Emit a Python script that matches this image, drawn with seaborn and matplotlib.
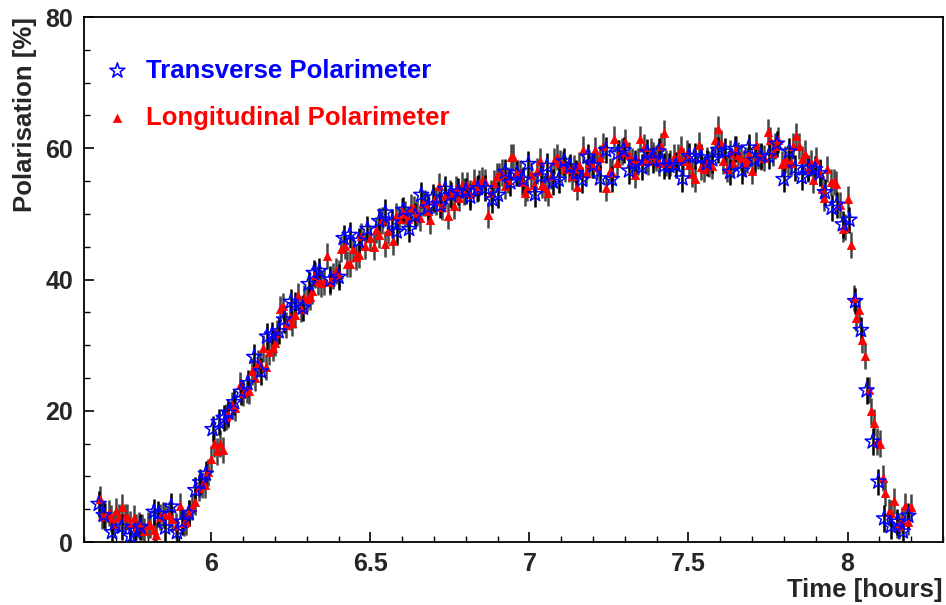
import numpy as np
import pandas as pd
import matplotlib
matplotlib.use("Agg")
import matplotlib.pyplot as plt
import seaborn as sns

# ---------------- data ----------------
long_time = [
    5.649, 5.656, 5.665, 5.677, 5.686, 5.693, 5.702, 5.711, 5.719, 5.728, 5.736, 5.745, 5.757, 5.763, 5.772, 5.782, 5.790, 5.801, 5.809, 5.819, 5.827, 5.838, 5.847, 5.855, 5.866, 5.876, 5.889, 5.902, 5.913, 5.920, 5.929, 5.939, 5.948, 5.960, 5.971, 5.981, 5.989, 6.000, 6.010, 6.019, 6.029, 6.038, 6.046, 6.054, 6.065,
    6.075, 6.091, 6.099, 6.112, 6.120, 6.128, 6.138, 6.146, 6.154, 6.162, 6.173, 6.183, 6.194, 6.201, 6.208, 6.217, 6.227, 6.236, 6.246, 6.253, 6.264, 6.272, 6.282, 6.290, 6.301, 6.309, 6.318, 6.327, 6.337, 6.346, 6.353, 6.363, 6.374, 6.382, 6.391, 6.400, 6.408, 6.419, 6.428, 6.435, 6.445, 6.454, 6.464, 6.472, 6.484, 6.500, 6.510, 6.519,
    6.526, 6.536, 6.545, 6.555, 6.570, 6.580, 6.591, 6.599, 6.610, 6.618, 6.628, 6.637, 6.646, 6.657, 6.667, 6.672, 6.681, 6.688, 6.699, 6.706, 6.717, 6.725, 6.735, 6.744, 6.751, 6.762, 6.770, 6.779, 6.788, 6.796, 6.804, 6.814, 6.825, 6.835, 6.842, 6.851, 6.859, 6.871, 6.880, 6.888, 6.898, 6.905, 6.913, 6.924, 6.932, 6.943, 6.950, 6.959, 6.970, 6.978,
    6.987, 6.994, 7.005, 7.015, 7.023, 7.032, 7.039, 7.050, 7.060, 7.067, 7.078, 7.086, 7.097, 7.105, 7.112, 7.123, 7.133, 7.141, 7.149, 7.157, 7.168, 7.178, 7.187, 7.196, 7.205, 7.214, 7.222, 7.231, 7.241, 7.252, 7.259, 7.266, 7.275, 7.283, 7.292, 7.301, 7.312, 7.322, 7.333, 7.341, 7.348, 7.359, 7.367, 7.374, 7.382, 7.390, 7.398, 7.406, 7.413, 7.422, 7.430,
    7.442, 7.453, 7.467, 7.477, 7.484, 7.495, 7.502, 7.511, 7.521, 7.532, 7.540, 7.548, 7.558, 7.565, 7.573, 7.584, 7.594, 7.603, 7.610, 7.621, 7.631, 7.639, 7.649, 7.657, 7.666, 7.674, 7.683, 7.691, 7.701, 7.712, 7.720, 7.728, 7.737, 7.749, 7.757, 7.765, 7.772, 7.783, 7.793, 7.802, 7.812, 7.821, 7.830, 7.838, 7.848, 7.856, 7.867, 7.875, 7.884,
    7.893, 7.901, 7.912, 7.919, 7.927, 7.937, 7.947, 7.956, 7.964, 7.975, 7.985, 7.992, 8.002, 8.010, 8.019, 8.027, 8.037, 8.045, 8.055, 8.066, 8.074, 8.082, 8.092, 8.102, 8.110, 8.118, 8.129, 8.137, 8.146, 8.155, 8.163, 8.171, 8.182, 8.191, 8.200,
]
long_pol = [
    6.5, 4.0, 4.0, 4.4, 3.6, 2.8, 4.7, 3.8, 5.3, 3.8, 3.8, 2.8, 3.6, 2.3, 2.6, 2.3, 1.7, 2.6, 2.6, 1.8, 1.1, 3.8, 4.1, 4.1, 4.1, 3.5, 2.4, 5.5, 2.9, 3.1, 4.4, 5.4, 6.1, 8.3, 8.7, 8.7, 10.6, 12.6, 14.9, 13.8, 15.0, 14.0, 19.1, 19.4, 20.9,
    20.4, 23.9, 22.7, 23.2, 23.0, 26.0, 25.0, 27.3, 27.1, 29.5, 26.7, 29.0, 29.6, 30.4, 31.8, 35.5, 36.0, 33.1, 34.3, 33.4, 34.6, 37.5, 35.5, 37.1, 37.0, 37.4, 38.3, 40.7, 39.7, 39.4, 39.7, 43.6, 39.6, 40.5, 41.3, 40.9, 44.6, 45.1, 42.4, 42.4, 44.6, 43.4, 43.7, 46.6, 45.1, 46.3, 44.9, 47.5,
    46.8, 49.0, 45.4, 47.4, 45.8, 49.7, 49.2, 50.4, 50.0, 49.2, 51.0, 50.7, 50.1, 49.4, 51.7, 51.7, 50.4, 49.0, 52.1, 51.9, 54.3, 51.1, 52.7, 49.7, 53.1, 51.2, 53.8, 52.4, 54.4, 53.4, 54.4, 53.1, 54.8, 53.8, 54.7, 55.2, 54.9, 49.8, 53.2, 54.7, 55.7, 55.7, 56.3, 54.3, 55.2, 58.7, 58.7, 56.2, 56.2, 54.9,
    53.2, 54.0, 55.9, 54.4, 56.5, 58.1, 54.4, 54.0, 53.2, 55.8, 58.1, 58.7, 57.7, 57.6, 56.8, 56.8, 55.7, 56.9, 54.1, 57.4, 59.8, 56.3, 57.7, 57.4, 59.7, 57.2, 58.5, 60.4, 53.9, 56.5, 56.3, 61.4, 57.7, 59.2, 59.5, 61.0, 59.0, 58.1, 55.9, 58.0, 61.4, 60.2, 58.2, 58.0, 59.5, 59.0, 58.5, 57.8, 60.4, 62.3, 57.8,
    57.7, 58.7, 58.6, 59.9, 58.1, 59.2, 57.4, 56.1, 55.3, 60.5, 57.2, 56.8, 58.2, 57.6, 57.3, 61.2, 62.9, 60.8, 58.1, 56.8, 59.3, 57.8, 59.9, 58.9, 58.5, 57.7, 58.2, 59.1, 56.6, 60.5, 58.8, 58.7, 58.5, 62.5, 61.2, 59.3, 60.3, 61.3, 57.6, 58.3, 57.8, 57.8, 60.3, 61.9, 60.3, 58.3, 59.2, 56.8, 57.8,
    55.2, 58.2, 56.3, 53.8, 52.4, 56.8, 54.8, 54.9, 54.6, 51.4, 47.7, 48.0, 52.2, 45.3, 37.2, 34.1, 35.3, 30.8, 28.3, 23.2, 19.9, 18.2, 15.3, 15.0, 9.7, 7.5, 4.5, 4.4, 6.3, 2.6, 2.4, 3.4, 5.5, 3.1, 5.3,
]
long_err = 2.0

trans_time = [
    5.646, 5.662, 5.688, 5.719, 5.745, 5.761, 5.777, 5.819, 5.834, 5.855, 5.874, 5.892, 5.908, 5.929, 5.950, 5.965, 5.983, 6.004, 6.023, 6.039, 6.054, 6.072, 6.093,
    6.114, 6.135, 6.156, 6.175, 6.191, 6.212, 6.229, 6.250, 6.264, 6.288, 6.306, 6.322, 6.340, 6.374, 6.400, 6.416, 6.435, 6.463, 6.491, 6.528,
    6.547, 6.568, 6.583, 6.604, 6.622, 6.641, 6.660, 6.681, 6.696, 6.720, 6.735, 6.754, 6.777, 6.800, 6.814, 6.838, 6.861, 6.884, 6.901, 6.924, 6.940, 6.961, 6.981,
    6.997, 7.018, 7.036, 7.055, 7.074, 7.092, 7.109, 7.128, 7.147, 7.165, 7.183, 7.201, 7.222, 7.241, 7.259, 7.277, 7.296, 7.313, 7.333, 7.353, 7.371, 7.388, 7.406, 7.422, 7.440, 7.460,
    7.481, 7.502, 7.519, 7.540, 7.558, 7.575, 7.594, 7.615, 7.631, 7.647, 7.668, 7.689, 7.708, 7.728, 7.752, 7.778, 7.799, 7.816, 7.835, 7.856, 7.877,
    7.898, 7.912, 7.929, 7.950, 7.966, 7.985, 8.006, 8.024, 8.042, 8.060, 8.079, 8.097, 8.115, 8.136, 8.157, 8.174, 8.191,
]
trans_pol = [
    5.8, 4.1, 1.5, 2.3, 0.9, 1.7, 2.3, 4.6, 4.3, 2.2, 5.4, 1.5, 3.1, 4.4, 7.9, 9.1, 10.4, 17.2, 18.3, 18.9, 19.7, 21.3, 22.9,
    24.2, 28.2, 26.0, 31.3, 31.6, 32.1, 33.9, 36.6, 36.1, 35.7, 39.3, 41.0, 41.3, 40.0, 40.4, 46.3, 46.8, 45.9, 47.7, 48.9,
    50.2, 48.7, 47.3, 50.6, 47.7, 49.7, 52.9, 51.0, 52.5, 51.3, 53.8, 52.9, 53.4, 53.5, 52.6, 53.9, 53.9, 52.2, 52.9, 56.4, 54.8, 56.2, 55.2,
    57.6, 53.0, 55.7, 57.3, 54.9, 55.2, 58.0, 57.2, 56.2, 55.2, 58.7, 57.4, 55.4, 59.7, 55.3, 59.2, 59.7, 56.6, 57.8, 57.1, 59.4, 58.2, 59.5, 57.3, 57.3, 57.4,
    55.4, 58.8, 58.8, 58.6, 57.7, 58.3, 59.7, 59.5, 56.4, 59.9, 56.6, 60.1, 58.2, 58.8, 58.8, 60.7, 55.3, 59.5, 57.0, 55.6, 57.0,
    56.8, 56.2, 53.3, 50.9, 51.4, 48.4, 49.1, 36.7, 32.3, 23.1, 15.3, 9.2, 3.6, 2.4, 3.1, 1.6, 4.0,
]
trans_err = 2.0

series_labels = ["Transverse Polarimeter", "Longitudinal Polarimeter"]
x_ticks = [6, 6.5, 7, 7.5, 8]
x_tick_labels = ["6", "6.5", "7", "7.5", "8"]
y_ticks = [0, 20, 40, 60, 80]
y_tick_labels = ["0", "20", "40", "60", "80"]

df_long = pd.DataFrame({"time": long_time, "pol": long_pol})
df_trans = pd.DataFrame({"time": trans_time, "pol": trans_pol})

# ---------------- style ----------------
sns.set_theme(style="ticks")
plt.rcParams["font.family"] = ["Liberation Sans", "DejaVu Sans"]
plt.rcParams["font.weight"] = "bold"

fig = plt.figure(figsize=(9.46, 6.05), dpi=100)
ax = fig.add_axes([0.0888, 0.1041, 0.908, 0.8678])
ax.set_facecolor("white")
fig.patch.set_facecolor("white")

# error bars
ax.errorbar(df_long["time"], df_long["pol"], yerr=long_err, fmt="none",
            ecolor="#444444", elinewidth=1.8, capsize=0, zorder=2)
ax.errorbar(df_trans["time"], df_trans["pol"], yerr=trans_err, fmt="none",
            ecolor="black", elinewidth=1.8, capsize=0, zorder=2)

# markers
sns.scatterplot(data=df_long, x="time", y="pol", ax=ax, marker="^", s=36,
                color="#ff0000", edgecolor="#ff0000", linewidth=0.5,
                zorder=3, label=series_labels[1])
sns.scatterplot(data=df_trans, x="time", y="pol", ax=ax, marker="*", s=130,
                facecolors="none", edgecolor="#0000ff", linewidth=1.1,
                zorder=4, label=series_labels[0])

ax.set_xlim(5.6, 8.3)
ax.set_ylim(0, 80)
ax.set_xticks(x_ticks)
ax.set_xticklabels(x_tick_labels)
ax.set_yticks(y_ticks)
ax.set_yticklabels(y_tick_labels)
ax.set_xticks(np.arange(5.6, 8.31, 0.1), minor=True)
ax.set_yticks(np.arange(0, 81, 5), minor=True)

ax.tick_params(axis="both", which="major", direction="in", length=7,
               width=1.2, labelsize=18, color="black")
ax.tick_params(axis="both", which="minor", direction="in", length=4,
               width=1.0, color="black")
ax.tick_params(axis="x", which="major", pad=7)
ax.tick_params(axis="y", which="major", pad=8)
for lab in ax.get_xticklabels() + ax.get_yticklabels():
    lab.set_fontweight("bold")

for sp in ax.spines.values():
    sp.set_visible(True)
    sp.set_color("black")
    sp.set_linewidth(1.3)

ax.set_xlabel("Time [hours]", fontsize=18.5, fontweight="bold", loc="right")
ax.set_ylabel("Polarisation [%]", fontsize=18.5, fontweight="bold", loc="top")
ax.xaxis.set_label_coords(1.0, -0.069)
ax.yaxis.set_label_coords(-0.0545, 1.0)

# legend (no frame), coloured text
handles, labels = ax.get_legend_handles_labels()
order = [labels.index(series_labels[0]), labels.index(series_labels[1])]
leg = ax.legend([handles[i] for i in order], [labels[i] for i in order],
                loc="upper left", bbox_to_anchor=(-0.006, 0.965), frameon=False,
                labelspacing=0.9, handletextpad=0.5,
                handlelength=1.2, prop={"weight": "bold", "size": 18.5})
for txt, col in zip(leg.get_texts(), ["#0000ff", "#ff0000"]):
    txt.set_color(col)

fig.savefig("out.png", dpi=100, facecolor="white")
